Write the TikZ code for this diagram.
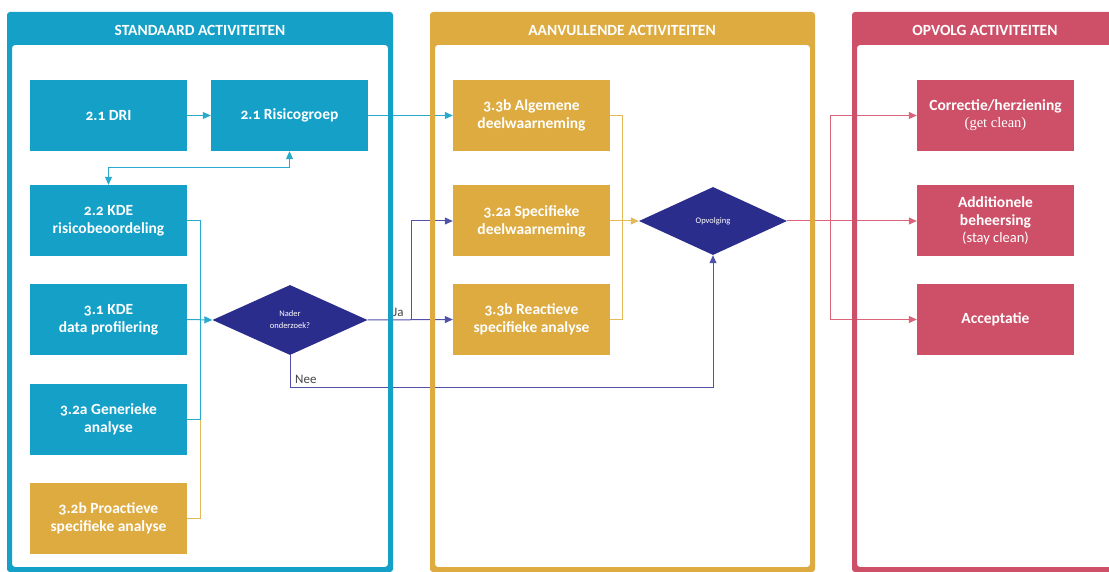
\documentclass[tikz,border=0pt]{standalone}
\usepackage{fontspec}
\setmainfont{Carlito}[Numbers=OldStyle]
\newfontfamily\serifx{Liberation Serif}
\usetikzlibrary{shapes.geometric,arrows.meta}
\definecolor{cblue}{RGB}{20,160,199}
\definecolor{cyellow}{RGB}{221,171,64}
\definecolor{cred}{RGB}{206,80,104}
\definecolor{cnavy}{RGB}{43,45,140}
\definecolor{lblue}{RGB}{40,170,205}
\definecolor{lyellow}{RGB}{228,185,90}
\definecolor{lred}{RGB}{218,100,122}
\definecolor{lnavy}{RGB}{80,82,170}
\definecolor{cgray}{RGB}{70,70,70}
\tikzset{
  box/.style={rectangle, minimum width=157pt, minimum height=71pt, inner sep=0pt,
    text=white, font=\bfseries\fontsize{15.5}{18}\selectfont, align=center},
  bbox/.style={box, fill=cblue},
  ybox/.style={box, fill=cyellow},
  rbox/.style={box, fill=cred},
  dia/.style={diamond, fill=cnavy, inner sep=0pt, text=white,
    font=\fontsize{8.5}{12}\selectfont, align=center},
  head/.style={text=white, font=\bfseries\fontsize{15.5}{17}\selectfont},
  conn/.style={line width=1pt},
  arr/.style={conn, -{Triangle[length=8pt,width=7pt]}},
  lab/.style={text=cgray, font=\fontsize{13}{15}\selectfont, inner sep=0pt}
}
\begin{document}
\begin{tikzpicture}[x=1pt,y=-1pt]
\useasboundingbox (0,0) rectangle (1109,572);
\clip (0,0) rectangle (1109,572);
\fill[white] (0,0) rectangle (1109,572);

% panel interiors
\fill[white] (12,45) rectangle (388,567);
\fill[white] (435,45) rectangle (810,567);
\fill[white] (857,45) rectangle (1140,567);

% boxes
\node[bbox] (dri) at (108.5,115.5) {2.1 DRI};
\node[bbox] (risico) at (289.5,115.5) {2.1 Risicogroep};
\node[bbox] (kde22) at (108.5,220.5) {2.2 KDE\\risicobeoordeling};
\node[bbox] (kde31) at (108.5,319.5) {3.1 KDE\\data profilering};
\node[bbox] (gen) at (108.5,419.5) {3.2a Generieke\\analyse};
\node[ybox] (pro) at (108.5,518.5) {3.2b Proactieve\\specifieke analyse};

\node[ybox] (alg) at (531.5,115.5) {3.3b Algemene\\deelwaarneming};
\node[ybox] (spec) at (531.5,221) {3.2a Specifieke\\deelwaarneming};
\node[ybox] (reac) at (531.5,319.5) {3.3b Reactieve\\specifieke analyse};

\node[rbox] (corr) at (995.5,115.5) {Correctie/herziening\\[-1pt]{\serifx\mdseries\fontsize{14.5}{16}\selectfont (get clean)}};
\node[rbox] (add) at (995.5,221) {Additionele\\beheersing\\[-1pt]{\mdseries\fontsize{14.5}{16}\selectfont (stay clean)}};
\node[rbox] (acc) at (995.5,319.5) {Acceptatie};

\node[dia, minimum width=155pt, minimum height=70pt] (nader) at (290,320) {Nader\\onderzoek?};
\node[dia, minimum width=148pt, minimum height=68pt] (opv) at (713,221) {Opvolging};

% junction coordinates
\coordinate (jb) at (289.5,168);
\coordinate (jl) at (200,220.5);
\coordinate (jl2) at (200,419.5);
\coordinate (jja) at (411,320);
\coordinate (jnee) at (713,387);
\coordinate (jy) at (622,115.5);
\coordinate (jy2) at (622,319.5);
\coordinate (jr) at (830,221);

% connectors
\draw[arr, lblue] (dri) -- (risico);
\draw[arr, lblue] (risico) -- (alg);
\draw[conn, lblue, {Triangle[length=8pt,width=7pt]}-{Triangle[length=8pt,width=7pt]}] (risico.south) -- (jb) -| (kde22.north);
\draw[conn, lblue] (kde22.east) -- (jl) -- (jl2) -- (gen.east);
\draw[conn, lyellow] (pro.east) -| (jl2);
\draw[arr, lblue] (kde31.east) -- (nader.west);

\draw[arr, lnavy] (nader.east) -- (reac.west);
\draw[arr, lnavy] (jja) |- (spec.west);
\draw[arr, lnavy] (nader.south) |- (jnee) -- (opv.south);

\draw[conn, lyellow] (alg.east) -- (jy) -- (jy2) -- (reac.east);
\draw[arr, lyellow] (spec.east) -- (opv.west);

\draw[conn, lred] (opv.east) -- (jr);
\draw[arr, lred] (jr) |- (corr.west);
\draw[arr, lred] (jr) -- (add.west);
\draw[arr, lred] (jr) |- (acc.west);

\node[lab, anchor=south west] (ja) at (393,317) {Ja};
\node[lab, anchor=south west] (nee) at (295,384) {Nee};

% panel frames (on top of connectors)
\fill[cblue, rounded corners=3pt, even odd rule] (7,12) rectangle (393,572) (12,45) rectangle (388,567);
\fill[cyellow, rounded corners=3pt, even odd rule] (430,12) rectangle (815,572) (435,45) rectangle (810,567);
\fill[cred, rounded corners=3pt, even odd rule] (852,12) rectangle (1140,572) (857,45) rectangle (1135,567);

\node[head] (h1) at (200,30) {STANDAARD ACTIVITEITEN};
\node[head] (h2) at (622,30) {AANVULLENDE ACTIVITEITEN};
\node[head] (h3) at (985,30) {OPVOLG ACTIVITEITEN};
\end{tikzpicture}
\end{document}
